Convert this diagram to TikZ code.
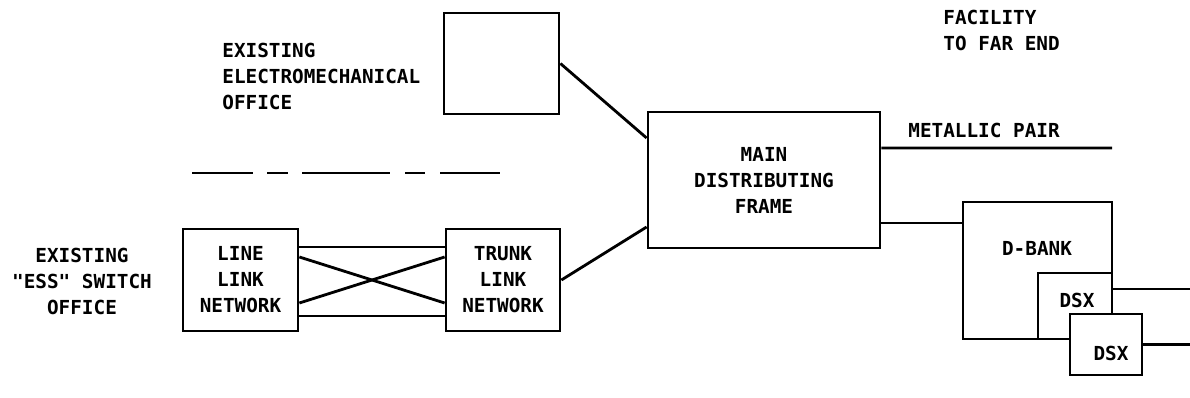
\documentclass[tikz,border=0pt]{standalone}
\usepackage{fontspec}
\setmonofont{DejaVu Sans Mono}
\begin{document}
\begin{tikzpicture}[x=0.02cm,y=-0.02cm,line width=1.6pt,
    every node/.style={font=\ttfamily\bfseries\fontsize{11}{14.8}\selectfont,inner sep=0pt},
    blk/.style={draw,fill=white}]
    \useasboundingbox (0,0) rectangle (1190,398);
    \coordinate (rightedge) at (1190,0);
    \coordinate (mpend) at (1112,148);

    % offices on the left
    \node[anchor=west,align=left] (emtext) at (221,76) {EXISTING\\ELECTROMECHANICAL\\OFFICE};
    \node[align=center] (esstext) at (82,281) {EXISTING\\"ESS" SWITCH\\OFFICE};
    \node[blk,minimum width=2.3cm,minimum height=2.02cm] (emoffice) at (501.5,63.5) {};
    \foreach \a/\b in {192/253, 267/288, 302/390, 405/425, 440/500}
        \draw (\a,173) -- (\b,173);

    \node[blk,align=center,minimum width=2.3cm,minimum height=2.04cm] (llnet) at (240.5,280) {LINE\\LINK\\NETWORK};
    \node[blk,align=center,minimum width=2.28cm,minimum height=2.04cm] (tlnet) at (503,280) {TRUNK\\LINK\\NETWORK};
    \foreach \a/\b in {0.66/0.66, -0.72/-0.72, 0.46/-0.46, -0.46/0.46}
        \draw ([yshift=\a cm]llnet.east) -- ([yshift=\b cm]tlnet.west);

    % frame and far end facilities
    \node[blk,align=center,minimum width=4.64cm,minimum height=2.72cm] (mdf) at (764,180) {MAIN\\DISTRIBUTING\\FRAME};
    \draw (emoffice.east) -- ([yshift=0.84cm]mdf.west);
    \draw (tlnet.east) -- ([yshift=-0.94cm]mdf.west);

    \node[anchor=west,align=left] (facility) at (942,30.5) {FACILITY\\TO FAR END};
    \node[anchor=west] (metallic) at (907,130) {METALLIC PAIR};
    \draw ([yshift=0.64cm]mdf.east) -- (mpend);

    \node[blk,minimum width=2.98cm,minimum height=2.74cm] (dbank) at (1037.5,270.5) {};
    \node (dbanktext) at (1037,248) {D-BANK};
    \draw ([yshift=-0.86cm]mdf.east) coordinate (mdfout) -- (mdfout -| dbank.west);

    \node[blk,minimum width=1.48cm,minimum height=1.32cm] (dsxa) at (1075,306) {};
    \node (dsxatext) at (1077,300) {DSX};
    \node[blk,minimum width=1.44cm,minimum height=1.22cm] (dsxb) at (1106,344.5) {};
    \node (dsxbtext) at (1111,353) {DSX};
    \draw ([yshift=0.34cm]dsxa.east) coordinate (dsxaout) -- (dsxaout -| rightedge);
    \draw (dsxb.east) -- (dsxb.east -| rightedge);
\end{tikzpicture}
\end{document}
